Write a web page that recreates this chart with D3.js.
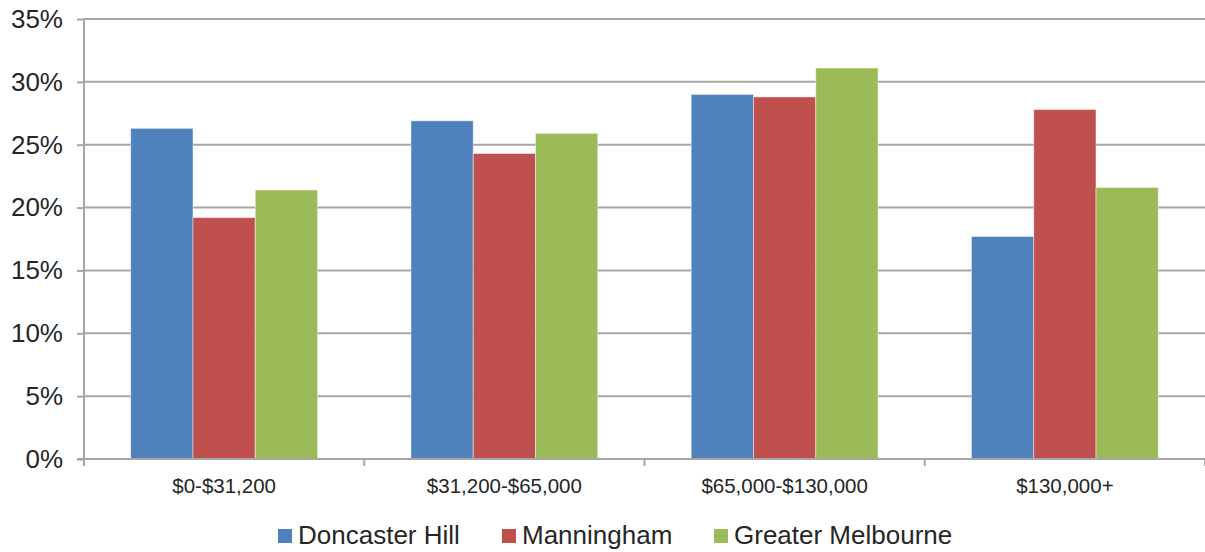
<!DOCTYPE html>
<html>
<head>
<meta charset="utf-8">
<script src="https://cdn.jsdelivr.net/npm/d3@7"></script>
<style>
  html, body { margin: 0; padding: 0; background: #fff; }
  svg { display: block; font-family: "Liberation Sans", Arial, sans-serif; }
</style>
</head>
<body>
<svg id="chart" width="1205" height="552"></svg>
<script>
// Household income distribution by area
const categories = ["$0-$31,200", "$31,200-$65,000", "$65,000-$130,000", "$130,000+"];
const seriesNames = ["Doncaster Hill", "Manningham", "Greater Melbourne"];
const doncasterHill = [26.3, 26.9, 29.0, 17.7];
const manningham = [19.2, 24.3, 28.8, 27.8];
const greaterMelbourne = [21.4, 25.9, 31.1, 21.6];
const yTicks = [0, 5, 10, 15, 20, 25, 30, 35];
const colors = ["#4F81BD", "#C0504D", "#9BBB59"];

const seriesValues = [doncasterHill, manningham, greaterMelbourne];

const W = 1205, H = 552;
const m = { left: 84, right: 0, top: 19, bottom: 93 };
const svg = d3.select("#chart");

const x0 = d3.scaleBand().domain(categories).range([m.left, W - m.right]).paddingInner(0).paddingOuter(0);
// three bars fill the middle two thirds of each band
const x1 = d3.scaleBand().domain(seriesNames)
  .range([x0.bandwidth() / 6, x0.bandwidth() * 5 / 6]).paddingInner(0).paddingOuter(0);
const y = d3.scaleLinear().domain([0, 35]).range([H - m.bottom, m.top]);

// horizontal gridlines
svg.append("g")
  .selectAll("line")
  .data(yTicks.filter(d => d > 0))
  .join("line")
  .attr("x1", m.left).attr("x2", W - m.right)
  .attr("y1", d => y(d)).attr("y2", d => y(d))
  .attr("stroke", "#A6A6A6").attr("stroke-width", 2);

// bars
const rows = categories.map((c, i) => ({ c, vals: seriesNames.map((s, k) => ({ s, k, v: seriesValues[k][i] })) }));
svg.append("g")
  .selectAll("g")
  .data(rows)
  .join("g")
  .attr("transform", d => `translate(${x0(d.c)},0)`)
  .selectAll("rect")
  .data(d => d.vals)
  .join("rect")
  .attr("x", d => x1(d.s))
  .attr("width", x1.bandwidth())
  .attr("y", d => y(d.v))
  .attr("height", d => y(0) - y(d.v))
  .attr("fill", d => colors[d.k])
  .attr("stroke", "rgba(255,255,255,0.45)")
  .attr("stroke-width", 1);

// y axis
const yAxis = d3.axisLeft(y).tickValues(yTicks).tickFormat(d => d + "%").tickSize(7).tickPadding(14);
const gy = svg.append("g").attr("transform", `translate(${m.left},0)`).call(yAxis);
gy.select(".domain").attr("stroke", "#A6A6A6").attr("stroke-width", 2).attr("d", `M0,${m.top}V${H - m.bottom + 7}`);
gy.selectAll(".tick line").attr("stroke", "#A6A6A6").attr("stroke-width", 2);
gy.selectAll(".tick text").attr("font-size", 26).attr("fill", "#262626")
  .attr("font-family", "'Liberation Sans', Arial, sans-serif");

// x axis
const gx = svg.append("g").attr("transform", `translate(0,${H - m.bottom})`);
gx.append("line").attr("x1", m.left - 7).attr("x2", W).attr("stroke", "#A6A6A6").attr("stroke-width", 2);
const bounds = categories.map(c => x0(c)).concat([W - m.right]);
gx.selectAll("line.tk").data(bounds).join("line").attr("class", "tk")
  .attr("x1", d => d).attr("x2", d => d).attr("y1", 0).attr("y2", 7)
  .attr("stroke", "#A6A6A6").attr("stroke-width", 2);
gx.selectAll("text").data(categories).join("text")
  .attr("x", d => x0(d) + x0.bandwidth() / 2)
  .attr("y", 34)
  .attr("text-anchor", "middle")
  .attr("font-size", 20.5)
  .attr("fill", "#262626")
  .text(d => d);

// legend
const legendX = [278, 502, 714];
const lg = svg.append("g").attr("transform", "translate(0,529)");
const items = lg.selectAll("g").data(seriesNames).join("g")
  .attr("transform", (d, i) => `translate(${legendX[i]},0)`);
items.append("rect").attr("width", 14).attr("height", 14).attr("fill", (d, i) => colors[i]);
items.append("text").attr("x", 20).attr("y", 15).attr("font-size", 26).attr("fill", "#262626").text(d => d);
</script>
</body>
</html>
